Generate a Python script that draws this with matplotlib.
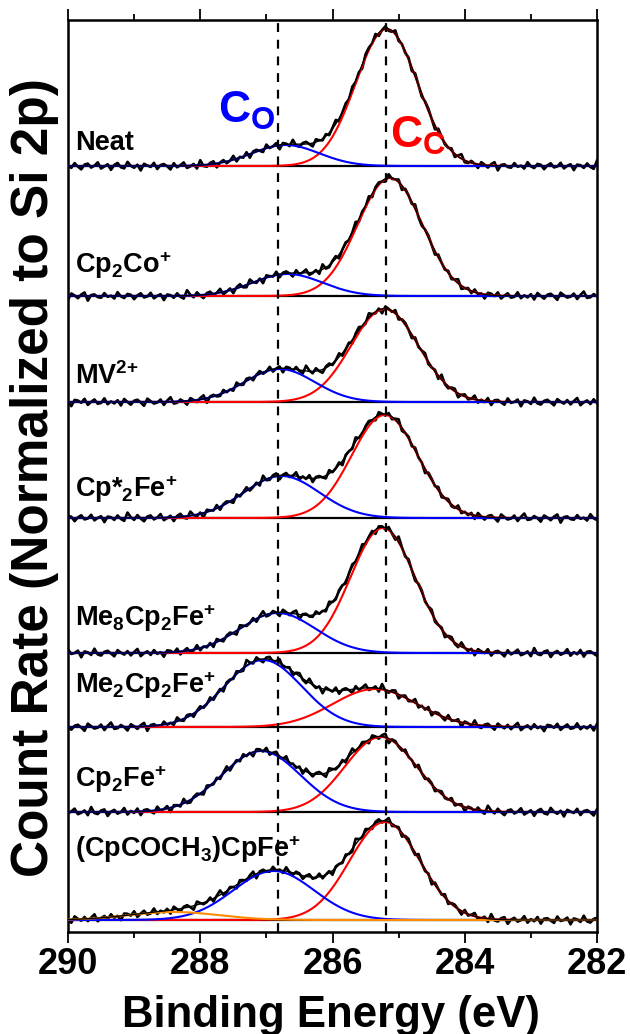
import numpy as np
import matplotlib
matplotlib.use("Agg")
import matplotlib.pyplot as plt

plt.rcParams['font.family'] = ['Liberation Sans', 'DejaVu Sans']
plt.rcParams['font.weight'] = 'bold'
plt.rcParams['mathtext.fontset'] = 'custom'
plt.rcParams['mathtext.rm'] = 'Liberation Sans:bold'
plt.rcParams['mathtext.it'] = 'Liberation Sans:bold'
plt.rcParams['mathtext.bf'] = 'Liberation Sans:bold'
plt.rcParams['mathtext.default'] = 'rm'

# ---------------- data ----------------
samples = ['Neat', 'Cp$_2$Co$^{+}$', 'MV$^{2{+}}$', 'Cp*$_2$Fe$^{+}$',
           'Me$_8$Cp$_2$Fe$^{+}$', 'Me$_2$Cp$_2$Fe$^{+}$', 'Cp$_2$Fe$^{+}$',
           '(CpCOCH$_3$)CpFe$^{+}$']
# stacking offsets (arbitrary units, count rate scale)
offsets = [766, 636, 530, 414, 279, 205, 120, 12]
label_y = [782, 659, 548, 435, 306, 239, 145, 75]

# C_C component (red): centre (eV), height, FWHM (eV)
cc_center = [285.18, 285.13, 285.21, 285.21, 285.24, 285.36, 285.27, 285.21]
cc_height = [137, 118, 93, 103, 125, 38, 75, 98]
cc_fwhm = [1.10, 1.15, 1.20, 1.18, 1.15, 1.50, 1.28, 1.25]
# C_O component (blue)
co_center = [286.71, 286.68, 286.80, 286.77, 286.83, 287.05, 287.08, 286.89]
co_height = [21, 22, 33, 42, 40, 67, 61, 49]
co_fwhm = [1.20, 1.25, 1.25, 1.35, 1.35, 1.38, 1.40, 1.44]
# extra component (orange) only in last sample
or_center = [None, None, None, None, None, None, None, 288.4]
or_height = [0, 0, 0, 0, 0, 0, 0, 8]
or_fwhm = [1, 1, 1, 1, 1, 1, 1, 1.6]

# measurement noise (residuals, same units), shifted per sample
residual = [0.5,-1.2,1.8,-0.4,-2.1,0.9,1.5,-1.0,0.2,2.3,-1.6,-0.3,1.1,-2.4,0.7,1.9,-0.8,-1.5,2.6,0.1,
            -1.1,0.8,-2.8,1.4,0.3,-0.6,2.0,-1.9,0.6,1.2,-0.2,-2.2,1.7,-0.9,0.4,2.1,-1.4,-0.5,1.0,-2.0,
            3.1,-0.7,-1.3,0.9,1.6,-2.5,0.2,1.3,-1.1,-0.1,2.4,-1.7,0.5,-0.8,1.9,-2.3,0.8,1.1,-0.4,-1.8,
            2.2,-0.6,0.0,1.5,-2.7,1.0,0.4,-1.2,2.7,-0.9,-1.6,0.7,1.4,-0.3,-2.1,1.8,0.2,-1.0,1.2,-1.5,
            0.6,2.5,-2.0,-0.2,1.0,-1.3,1.7,-0.7,0.3,-2.6,1.3,0.9,-0.5,2.0,-1.8,0.1,1.6,-1.1,-0.6,2.3,
            -1.4,0.4,-0.9,1.1,-2.2,1.9,0.0,-1.7,0.8,1.4,-0.3,-2.4,2.1,0.5,-1.0,-0.4,1.5,-1.9,0.7,2.8,
            -1.2,-0.8,1.2,-0.1,-2.3,1.6,0.3,-1.4,0.9,2.2,-2.9,0.6,1.0,-0.7,-1.1,1.8,-0.5,0.2,-1.6,2.4,
            -0.2,-1.3,1.3,0.8,-2.0,0.4,1.7,-0.9,-0.3,2.0,-1.5,0.1,1.1,-2.6,0.9,0.5,-1.2,1.6,-0.6,-1.8,3.4]
noise_shift = [0, 37, 73, 19, 101, 55, 128, 88]
noise_scale = 1.6

ref_lines = [286.83, 285.19]
xticks = [290, 288, 286, 284, 282]

# --------------- plot -----------------
def gauss(x, c, h, w):
    if c is None or h == 0:
        return np.zeros_like(x)
    return h * np.exp(-4 * np.log(2) * (x - c) ** 2 / w ** 2)

fig = plt.figure(figsize=(6.3, 10.34), dpi=100)
ax = fig.add_axes([68/630, 1 - 932/1034, 529/630, 912/1034])

xf = np.linspace(290, 282, 801)
xd = np.linspace(290, 282, len(residual))
res = np.array(residual) * noise_scale

for i in range(len(samples)):
    off = offsets[i]
    ax.axhline(off, color='black', lw=1.6, zorder=1)
    red_f = gauss(xf, cc_center[i], cc_height[i], cc_fwhm[i])
    blue_f = gauss(xf, co_center[i], co_height[i], co_fwhm[i])
    orng_f = gauss(xf, or_center[i], or_height[i], or_fwhm[i])
    env_f = red_f + blue_f + orng_f
    data = (gauss(xd, cc_center[i], cc_height[i], cc_fwhm[i])
            + gauss(xd, co_center[i], co_height[i], co_fwhm[i])
            + gauss(xd, or_center[i], or_height[i], or_fwhm[i])
            + np.roll(res, noise_shift[i]))
    ax.plot(xd, data + off, color='black', lw=1.9, zorder=2)
    ax.plot(xf, red_f + off, color='#ff0000', lw=1.5, zorder=3)
    ax.plot(xf, blue_f + off, color='#0000ff', lw=1.5, zorder=3)
    if or_height[i] > 0:
        ax.plot(xf, orng_f + off, color='#ff8c00', lw=1.5, zorder=3)
    ax.plot(xf, env_f + off, color='black', lw=1.0, zorder=4)
    ax.text(289.89, label_y[i], samples[i], fontsize=19.5, fontweight='bold',
            ha='left', va='baseline', zorder=6)

for xv in ref_lines:
    ax.axvline(xv, color='black', lw=1.6, ls=(0, (4, 3.5)), zorder=5)

ax.text(287.73, 809, 'C$_\\mathrm{O}$', color='#0000ff', fontsize=32,
        ha='left', va='baseline', zorder=6)
ax.text(285.13, 784, 'C$_\\mathrm{C}$', color='#ff0000', fontsize=32,
        ha='left', va='baseline', zorder=6)

ax.set_xlim(290, 282)
ax.set_ylim(0, 912)
ax.set_xticks(xticks)
ax.set_xticks(np.arange(282, 291, 1), minor=True)
ax.set_yticks([])
ax.tick_params(axis='x', which='both', direction='out', top=True, bottom=True,
               labeltop=False, width=1.3, labelsize=26, pad=3)
ax.tick_params(axis='x', which='major', length=8)
ax.tick_params(axis='x', which='minor', length=4)
for lab in ax.get_xticklabels():
    lab.set_fontweight('bold')
for sp in ax.spines.values():
    sp.set_linewidth(1.8)

fig.text(331/630, 1 - 1027/1034, 'Binding Energy (eV)', fontsize=31.5,
         fontweight='bold', ha='center', va='baseline')
fig.text(35/630, 1 - 478/1034, 'Count Rate (Normalized to Si 2p)', fontsize=37,
         fontweight='bold', ha='center', va='center', rotation=90)

fig.savefig('out.png', dpi=100)
